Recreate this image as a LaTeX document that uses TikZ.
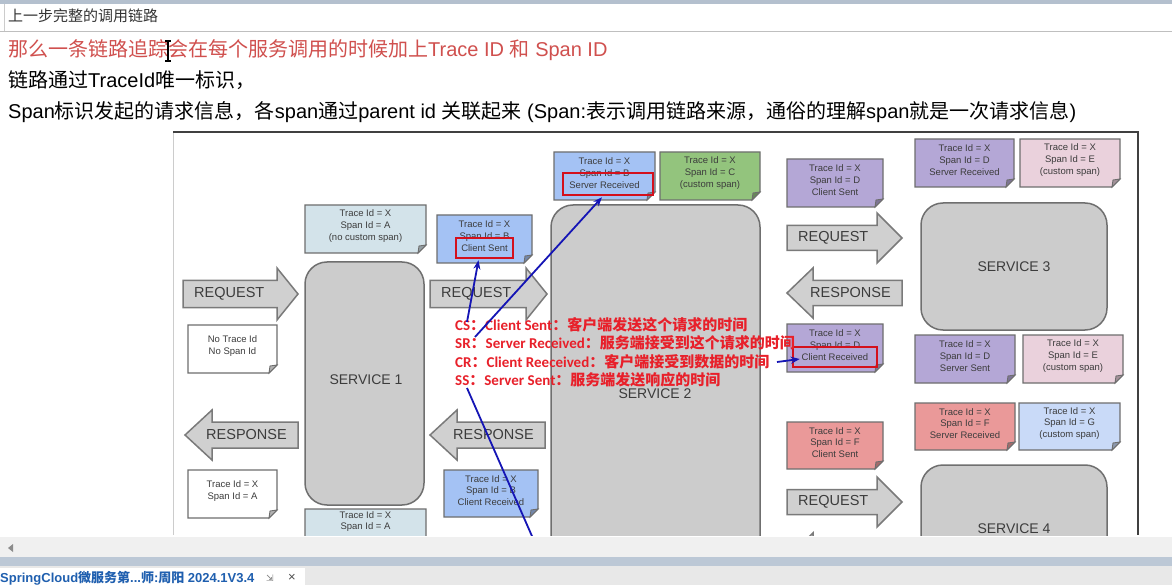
\documentclass[tikz,border=0pt]{standalone}
\usepackage{fontspec}
\setmainfont{Liberation Sans}
\newfontfamily\cjk{Noto Sans CJK SC}
\newfontfamily\cali{Carlito}
\newfontfamily\djv{DejaVu Sans}
\usetikzlibrary{arrows.meta}
\definecolor{topband}{HTML}{B4C0CE}
\definecolor{textred}{HTML}{D0504E}
\definecolor{annred}{HTML}{E8202A}
\definecolor{hlred}{HTML}{D4101C}
\definecolor{linkblue}{HTML}{1515B5}
\definecolor{noteborder}{HTML}{6E6E6E}
\definecolor{notecyan}{HTML}{D3E3EA}
\definecolor{noteblue}{HTML}{A4C2F4}
\definecolor{notegreen}{HTML}{93C47D}
\definecolor{notepurple}{HTML}{B4A7D6}
\definecolor{notepink}{HTML}{EAD1DC}
\definecolor{notesalmon}{HTML}{EA9999}
\definecolor{notelightblue}{HTML}{C9DAF8}
\definecolor{svcfill}{HTML}{CCCCCC}
\definecolor{svcborder}{HTML}{6F6F6F}
\definecolor{arrfill}{HTML}{D0D0D0}
\definecolor{arrborder}{HTML}{7A7A7A}
\definecolor{labgray}{HTML}{3C3C3C}
\definecolor{tabblue}{HTML}{1F5FAF}
\definecolor{scrollgray}{HTML}{F0F0F0}
\definecolor{bandblue}{HTML}{BCC8D6}
\definecolor{tabgray}{HTML}{E8E8E8}
\tikzset{
  notetext/.style={font=\fontsize{9.5}{11.8}\selectfont, text=labgray, align=center, inner sep=0pt},
  redbox/.style={draw=hlred, line width=2.5pt, inner sep=0pt},
  service/.style={draw=svcborder, fill=svcfill, line width=1.5pt, rounded corners=22pt, inner sep=0pt},
  svclabel/.style={font=\fontsize{14}{16}\selectfont, text=labgray, inner sep=0pt},
  arrowshape/.style={draw=arrborder, fill=arrfill, line width=1.5pt, line join=miter},
  arrlabel/.style={font=\fontsize{14.5}{16}\selectfont, text=labgray, inner sep=0pt},
  bluelink/.style={draw=linkblue, line width=1.8pt},
  annot/.style={font=\cali\bfseries\fontsize{15}{18}\selectfont, text=annred, anchor=base west, inner sep=0pt},
  bodytext/.style={anchor=base west, inner sep=0pt, font=\fontsize{20}{24}\selectfont},
}
\newcommand\notebox[7]{%
  \filldraw[draw=noteborder, line width=1.3pt, fill=#6] (#2,#3) -- (#4,#3) -- (#4,{#5-8}) -- ({#4-8},#5) -- (#2,#5) -- cycle;
  \filldraw[draw=noteborder, line width=0.9pt, fill=#6!70!black] (#4,{#5-8}) -- ({#4-8},#5) -- ({#4-7},{#5-7}) -- cycle;
  \node[notetext] (#1) at ({(#2+#4)/2},{(#3+#5)/2-3}) {#7};
}
\newcommand\rarrow[8]{%
  \filldraw[arrowshape] (#2,{#5-#6}) -- (#3,{#5-#6}) -- (#3,{#5-#7}) -- (#4,#5) -- (#3,{#5+#7}) -- (#3,{#5+#6}) -- (#2,{#5+#6}) -- cycle;
  \node[arrlabel, anchor=west] (#1) at ({#2+11},#5) {#8};
}
\newcommand\larrow[8]{%
  \filldraw[arrowshape] (#4,{#5-#6}) -- (#3,{#5-#6}) -- (#3,{#5-#7}) -- (#2,#5) -- (#3,{#5+#7}) -- (#3,{#5+#6}) -- (#4,{#5+#6}) -- cycle;
  \node[arrlabel, anchor=east] (#1) at ({#4-11},#5) {#8};
}
\begin{document}
\begin{tikzpicture}[x=1pt,y=-1pt]
\useasboundingbox (0,0) rectangle (1172,585);
\fill[white] (0,0) rectangle (1172,585);
% top bar
\fill[topband] (0,0) rectangle (1172,4);
\draw[black!25, line width=1pt] (0,31.5) -- (1172,31.5);
\draw[black!20, line width=0.8pt] (4,4) -- (4,31);
\node[anchor=base west, inner sep=0pt, font=\cjk\fontsize{15}{17}\selectfont, text=black!80] (hdr) at (8,22) {上一步完整的调用链路};
% body text
\node[bodytext, text=textred] (l1) at (8,57) {{\cjk 那么一条链路追踪会在每个服务调用的时候加上}Trace ID {\cjk 和} Span ID};
\node[bodytext, text=black] (l2) at (8,88) {{\cjk 链路通过}TraceId{\cjk 唯一标识，}};
\node[bodytext, text=black] (l3) at (8,119) {Span{\cjk 标识发起的请求信息，各}span{\cjk 通过}parent id {\cjk 关联起来} (Span:{\cjk 表示调用链路来源，通俗的理解}span{\cjk 就是一次请求信息})};
% cursor
\draw[black, line width=1.1pt] (168,41) -- (168,61) (165,41) -- (171,41) (165,61) -- (171,61);
% diagram
\begin{scope}
\clip (173,132) rectangle (1140,535);
% services
\node[service, minimum width=119pt, minimum height=243pt] (svc1) at (364.5,383.5) {};
\node[svclabel] (svc1l) at (366,380) {SERVICE 1};
\node[service, minimum width=209pt, minimum height=420pt] (svc2) at (655.5,415) {};
\node[svclabel] (svc2l) at (655,394) {SERVICE 2};
\node[service, minimum width=186pt, minimum height=127pt] (svc3) at (1014,266.5) {};
\node[svclabel] (svc3l) at (1014,267) {SERVICE 3};
\node[service, minimum width=186pt, minimum height=130pt] (svc4) at (1014,530) {};
\node[svclabel] (svc4l) at (1014,529) {SERVICE 4};
% block arrows
\rarrow{req1}{183}{277}{298}{294}{13.5}{26}{REQUEST}
\rarrow{req2}{430}{526}{547}{294}{13.5}{26}{REQUEST}
\larrow{resp1}{185}{212}{298}{435}{13}{25}{RESPONSE}
\larrow{resp2}{430}{457}{545}{435}{13}{25}{RESPONSE}
\rarrow{req3}{787}{877}{902}{238}{12.5}{25}{REQUEST}
\larrow{resp3}{787}{813}{902}{293}{12.5}{25}{RESPONSE}
\rarrow{req4}{787}{877}{902}{502}{12.5}{25}{REQUEST}
\larrow{resp4}{787}{813}{902}{558}{12.5}{25}{RESPONSE}
% notes
\notebox{n1}{305}{205}{426}{253}{notecyan}{Trace Id = X\\Span Id = A\\(no custom span)}
\notebox{n2}{437}{215}{532}{263}{noteblue}{Trace Id = X\\Span Id = B\\Client Sent}
\notebox{n3}{554}{152}{655}{200}{noteblue}{Trace Id = X\\Span Id = B\\Server Received}
\notebox{n4}{660}{152}{760}{200}{notegreen}{Trace Id = X\\Span Id = C\\(custom span)}
\notebox{n5}{787}{159}{883}{207}{notepurple}{Trace Id = X\\Span Id = D\\Client Sent}
\notebox{n6}{915}{139}{1014}{187}{notepurple}{Trace Id = X\\Span Id = D\\Server Received}
\notebox{n7}{1020}{139}{1120}{187}{notepink}{Trace Id = X\\Span Id = E\\(custom span)}
\notebox{n8}{188}{325}{277}{373}{white}{No Trace Id\\No Span Id}
\notebox{n9}{188}{470}{277}{518}{white}{Trace Id = X\\Span Id = A}
\notebox{n10}{305}{509}{426}{575}{notecyan}{}
\node[notetext, anchor=north] (n10t) at (365.5,511) {Trace Id = X\\Span Id = A};
\notebox{n11}{444}{470}{538}{517}{noteblue}{Trace Id = X\\Span Id = B\\Client Received}
\notebox{n12}{787}{324}{883}{372}{notepurple}{Trace Id = X\\Span Id = D\\Client Received}
\notebox{n13}{915}{335}{1015}{383}{notepurple}{Trace Id = X\\Span Id = D\\Server Sent}
\notebox{n14}{1023}{335}{1123}{383}{notepink}{Trace Id = X\\Span Id = E\\(custom span)}
\notebox{n15}{915}{403}{1015}{450}{notesalmon}{Trace Id = X\\Span Id = F\\Server Received}
\notebox{n16}{1019}{403}{1120}{450}{notelightblue}{Trace Id = X\\Span Id = G\\(custom span)}
\notebox{n17}{787}{422}{883}{469}{notesalmon}{Trace Id = X\\Span Id = F\\Client Sent}
% red highlight boxes
\node[redbox, minimum width=57pt, minimum height=20pt] (csbox) at (484.5,248) {};
\node[redbox, minimum width=90pt, minimum height=22pt] (srbox) at (608,184) {};
\node[redbox, minimum width=84pt, minimum height=20pt] (crbox) at (835,357) {};
% annotations
\node[annot] (cs) at (455,330) {CS{\cjk\bfseries ：}Client Sent{\cjk\bfseries ：客户端发送这个请求的时间}};
\node[annot] (sr) at (455,348.5) {SR{\cjk\bfseries ：}Server Received{\cjk\bfseries ：服务端接受到这个请求的时间}};
\node[annot] (cr) at (455,367) {CR{\cjk\bfseries ：}Client Reeceived{\cjk\bfseries ：客户端接受到数据的时间}};
\node[annot] (ss) at (455,385.5) {SS{\cjk\bfseries ：}Server Sent{\cjk\bfseries ：服务端发送响应的时间}};
% blue links
\coordinate (csfrom) at (467,322);
\coordinate (srfrom) at (475,337);
\coordinate (crfrom) at (777,362);
\coordinate (ssfrom) at (467,388);
\coordinate (ssto) at (560,600);
\draw[bluelink, -{Stealth[length=9pt,width=7pt]}] (csfrom) -- ([xshift=-6pt,yshift=-1pt]csbox.south);
\draw[bluelink, -{Stealth[length=9pt,width=7pt]}] (srfrom) -- ([xshift=-6pt,yshift=-1pt]srbox.south);
\draw[bluelink, -{Stealth[length=9pt,width=7pt]}] (crfrom) -- ([xshift=8pt,yshift=-2pt]crbox.west);
\draw[bluelink] (ssfrom) -- (ssto);
\end{scope}
% frame
\draw[black!20, line width=1pt] (173.5,132) -- (173.5,535);
\draw[black!75, line width=2pt] (173,132) -- (1138,132) -- (1138,535);
% scroll and tab bars
\fill[scrollgray] (0,537) rectangle (1172,557);
\fill[black!45] (8,548) -- (13,544) -- (13,552) -- cycle;
\fill[bandblue] (0,557) rectangle (1172,566);
\fill[tabgray] (0,566) rectangle (1172,585);
\fill[white] (0,568) rectangle (305,585);
\node[anchor=base west, inner sep=0pt, font=\bfseries\fontsize{13}{15}\selectfont, text=tabblue] (tab) at (0,582) {SpringCloud{\cjk\bfseries 微服务第}...{\cjk\bfseries 师}:{\cjk\bfseries 周阳} 2024.1V3.4};
\node[inner sep=0pt, font=\djv\fontsize{9}{10}\selectfont, text=black!55] (tabicon) at (270,578) {⇲};
\node[inner sep=0pt, font=\fontsize{13}{14}\selectfont, text=black!70] (tabclose) at (292,578) {×};
\end{tikzpicture}
\end{document}
